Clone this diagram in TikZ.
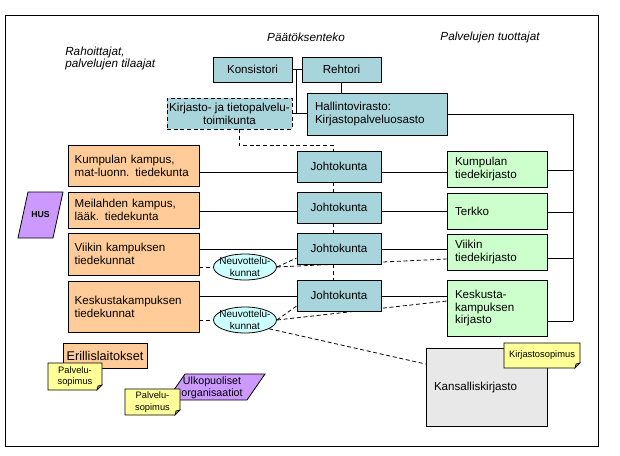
\documentclass[tikz,border=0pt]{standalone}
\usepackage{fontspec}
\setmainfont{Liberation Sans}
\usetikzlibrary{calc,shapes.geometric,backgrounds}

\definecolor{tealbox}{RGB}{168,212,219}
\definecolor{orangebox}{RGB}{255,204,153}
\definecolor{greenbox}{RGB}{204,255,204}
\definecolor{purplebox}{RGB}{204,153,255}
\definecolor{cyanbox}{RGB}{204,255,255}
\definecolor{memoyellow}{RGB}{255,255,153}
\definecolor{greybox}{RGB}{232,232,232}

\begin{document}
\begin{tikzpicture}[
  x=0.75pt, y=-0.75pt,
  font=\fontsize{8.7}{9.6}\selectfont,
  box/.style={draw=black, line width=0.6pt, inner sep=0pt, align=center},
  lbox/.style={box, align=left, inner xsep=6pt},
  board/.style={box, fill=tealbox, minimum width=63pt, minimum height=23.25pt},
  dept/.style={lbox, fill=orangebox, inner xsep=5pt, text width=88.25pt},
  lib/.style={lbox, fill=greenbox, text width=63pt},
  neuv/.style={ellipse, draw=black, line width=0.6pt, fill=cyanbox, inner sep=0pt,
               minimum width=47.25pt, minimum height=19.5pt},
  neuvtxt/.style={font=\fontsize{7.5}{9}\selectfont, align=center, inner sep=0pt},
  para/.style={draw=black, line width=0.6pt, fill=purplebox},
  memofill/.style={draw=black, line width=0.5pt, fill=memoyellow},
  memofold/.style={draw=black, line width=0.5pt, fill=memoyellow!60!black},
  memotxt/.style={font=\fontsize{7}{8.5}\selectfont, align=center, inner sep=0pt},
  ttl/.style={font=\fontsize{8.8}{9.6}\selectfont\itshape, inner sep=0pt},
  conn/.style={line width=0.6pt},
  dconn/.style={line width=0.6pt, dash pattern=on 3pt off 2pt},
]
% ---- memo with folded corner: #1 id #2 x #3 y #4 w #5 h #6 text ----
\newcommand{\memo}[6]{%
  \pgfmathsetmacro{\mxl}{#2-#4/2}\pgfmathsetmacro{\mxr}{#2+#4/2}%
  \pgfmathsetmacro{\myt}{#3-#5/2}\pgfmathsetmacro{\myb}{#3+#5/2}%
  \filldraw[memofill] (\mxl,\myt) -- (\mxr,\myt) -- (\mxr,\myb-5) -- (\mxr-5,\myb) -- (\mxl,\myb) -- cycle;%
  \filldraw[memofold] (\mxr,\myb-5) -- (\mxr-4,\myb-4) -- (\mxr-5,\myb) -- cycle;%
  \node[memotxt] (#1) at (#2,#3) {#6};%
}
\useasboundingbox (0,0) rectangle (620,456);
\draw[conn] (5,15) rectangle (598,446);

% ======================= headings =======================
\node[ttl] (tdec) at (306,37) {Päätöksenteko};
\node[ttl] (tprod) at (490,37) {Palvelujen tuottajat};
\node[ttl, align=left, anchor=west] (tfund) at (65,58.5) {Rahoittajat,\\palvelujen tilaajat};

% ======================= decision making (top) =======================
\node[board, minimum width=59.25pt, minimum height=18.75pt] (kons) at (252.5,69.5) {Konsistori};
\node[board, minimum width=59.25pt, minimum height=18.75pt] (reht) at (341.5,69.5) {Rehtori};
\node[lbox, fill=tealbox, text width=93pt, minimum height=31.5pt] (hall) at (377,114)
  {Hallintovirasto:\\Kirjastopalveluosasto};
\node[board, dash pattern=on 3pt off 2pt, minimum width=93.75pt] (ktp) at (229.5,113.5)
  {Kirjasto- ja tietopalvelu-\\toimikunta};

% ======================= faculties (left) =======================
\node[dept, minimum height=30.75pt] (dK) at (133.5,165.5) {Kumpulan kampus,\\mat-luonn. tiedekunta};
\node[dept, minimum height=27pt]    (dM) at (133.5,210)   {Meilahden kampus,\\lääk. tiedekunta};
\node[dept, minimum height=31.5pt]  (dV) at (133.5,254)   {Viikin kampuksen\\tiedekunnat};
\node[dept, minimum height=38.25pt] (dC) at (133.5,306.5) {Keskustakampuksen\\tiedekunnat};

% HUS
\filldraw[para] (18,238) -- (28,192) -- (63,192) -- (53,238) -- cycle;
\node[font=\fontsize{6.5}{7}\selectfont\bfseries] (hus) at (40.5,215) {HUS};

% ======================= boards (middle) =======================
\node[board] (jK) at (339,166.5) {Johtokunta};
\node[board] (jM) at (339,207.5) {Johtokunta};
\node[board] (jV) at (339,248.5) {Johtokunta};
\node[board] (jC) at (339,295.5) {Johtokunta};

\node[neuv, label={[neuvtxt]center:{Neuvottelu-\\kunnat}}] (n1) at (245,267) {};
\node[neuv, label={[neuvtxt]center:{Neuvottelu-\\kunnat}}] (n2) at (245,320) {};

% ======================= libraries (right) =======================
\node[lib, minimum height=27pt] (klib)  at (497,169) {Kumpulan\\tiedekirjasto};
\node[lib, minimum height=27pt] (terk)  at (497,211) {Terkko};
\node[lib, minimum height=27pt] (vlib)  at (497,252) {Viikin\\tiedekirjasto};
\node[lib, minimum height=42pt] (kklib) at (497,308) {Keskusta-\\kampuksen\\kirjasto};

\node[lbox, fill=greybox, text width=78.75pt, minimum height=58.5pt] (kans) at (486.5,387)
  {Kansalliskirjasto};
\memo{ksop}{542}{355.5}{76}{25}{Kirjastosopimus}

% ======================= others (bottom left) =======================
\node[box, fill=orangebox, minimum width=63pt, minimum height=18.75pt,
      font=\fontsize{9.5}{10}\selectfont] (eril) at (105,355.5) {Erillislaitokset};
\memo{ps1}{75}{376.5}{54}{27}{Palvelu-\\sopimus}

\filldraw[para] (167,400) -- (185,374) -- (265,374) -- (247,400) -- cycle;
\node[font=\fontsize{8}{9}\selectfont, align=center] (ulko) at (212,387.5) {Ulkopuoliset\\organisaatiot};
\memo{ps2}{152.5}{402}{55}{26}{Palvelu-\\sopimus}

% ======================= edges =======================
\begin{scope}[on background layer]
  % top hierarchy
  \coordinate (kr) at ($(kons.east)!0.4!(reht.west)$);
  \draw[conn] (kons.east) -- (reht.west);
  \draw[conn] (kr) -- (kr |- ktp.east);
  \draw[conn] (ktp.east) -- (ktp.east -| hall.west);
  \draw[conn] (reht.south) -- (reht.south |- hall.north);

  % administration -> libraries
  \coordinate (bus) at (573,114);
  \draw[conn] (hall.east) -- (bus) -- (bus |- 0,321);
  \foreach \n/\yy in {klib/170, terk/212, vlib/258, kklib/321}
    \draw[conn] (\n.east |- 0,\yy) -- (bus |- 0,\yy);

  % faculty -> board -> library
  \foreach \d/\j/\l/\yy in {dK/jK/klib/172, dM/jM/terk/211, dV/jV/vlib/249, dC/jC/kklib/296}{
    \draw[conn] (\d.east |- 0,\yy) -- (\j.west |- 0,\yy);
    \draw[conn] (\j.east |- 0,\yy) -- (\l.west |- 0,\yy);
  }

  % committee -> boards (dashed)
  \draw[dconn] ($(ktp.south)+(9.5,0)$) -- ++(0,16) -| ($(jK.north)+(-6,0)$);
  \foreach \a/\b in {jK/jM, jM/jV, jV/jC}
    \draw[dconn] ($(\a.south)+(-6,0)$) -- ($(\b.north)+(-6,0)$);

  % advisory boards
  \draw[dconn] (dV.east |- n1.west) -- (n1.west);
  \draw[dconn] (n1.east) -- (jV.west |- 0,258);
  \draw[dconn] (n1.east) -- (vlib.west |- 0,259);
  \draw[dconn] (dC.east |- n2.west) -- (n2.west);
  \draw[dconn] (n2.east) -- (jC.west |- 0,306);
  \draw[dconn] (n2.east) -- (kklib.west |- 0,301);
  \draw[dconn] (n2.-20) -- (kans.west |- 0,364);
\end{scope}
\end{tikzpicture}
\end{document}
